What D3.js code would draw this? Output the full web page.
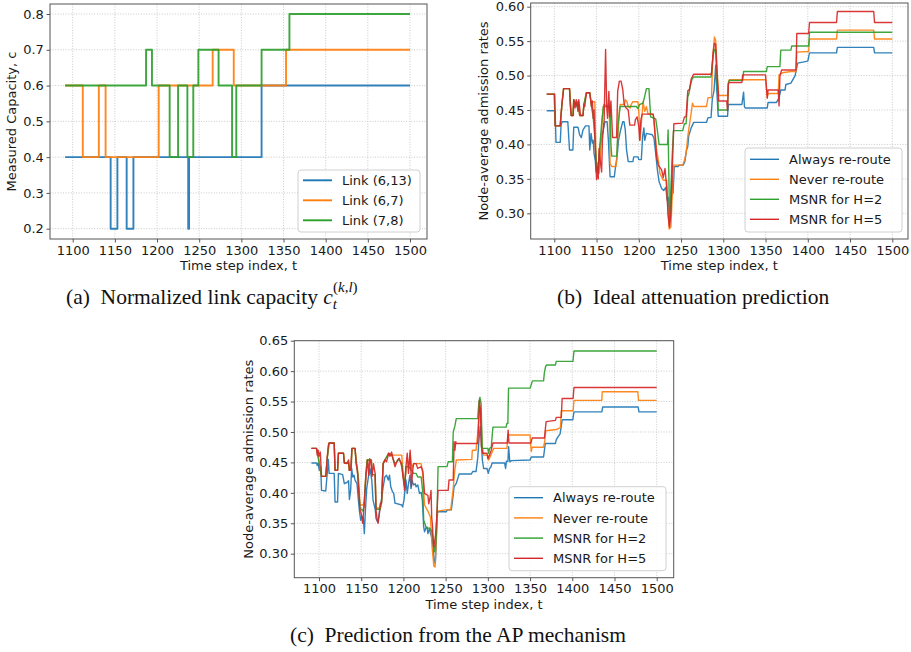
<!DOCTYPE html>
<html>
<head>
<meta charset="utf-8">
<script src="https://cdn.jsdelivr.net/npm/d3@7"></script>
<style>
  html, body { margin: 0; padding: 0; background: #fff; }
  svg text { font-family: "DejaVu Sans", sans-serif; fill: #1a1a1a; }
  .grid { stroke: #c4c4c4; stroke-width: 0.9; stroke-dasharray: 1 1.6; }
  .caption { font-family: "Liberation Serif", "DejaVu Serif", serif; fill: #111; }
</style>
</head>
<body>
<svg id="fig" width="911" height="652"></svg>
<script>
// ---- time axis ----
const timeTicks = [1100, 1150, 1200, 1250, 1300, 1350, 1400, 1450, 1500];

// ---- (a) measured link capacity: [time step, capacity] at each change ----
const capLink613 = [[1091,0.4],[1145,0.2],[1153,0.4],[1164,0.2],[1172,0.4],[1237,0.2],[1238,0.4],[1324,0.6],[1500,0.6]];
const capLink67  = [[1091,0.6],[1112,0.4],[1131,0.6],[1139,0.4],[1202,0.6],[1266,0.7],[1291,0.6],[1353,0.7],[1500,0.7]];
const capLink78  = [[1091,0.6],[1187,0.7],[1194,0.6],[1215,0.4],[1225,0.6],[1236,0.4],[1243,0.6],[1249,0.7],[1273,0.6],[1289,0.4],[1294,0.6],[1324,0.7],[1357,0.8],[1500,0.8]];
const capTicks = [0.2, 0.3, 0.4, 0.5, 0.6, 0.7, 0.8];
const linkNames = ["Link (6,13)", "Link (6,7)", "Link (7,8)"];

// ---- (b) ideal attenuation prediction: node-average admission rates ----
const idealAlways = [[1091,0.449],[1101,0.449],[1102,0.403],[1107,0.403],[1108,0.427],[1109,0.433],[1116,0.433],[1118,0.392],[1122,0.392],[1123,0.425],[1128,0.425],[1130,0.414],[1132,0.41],[1134,0.421],[1137,0.427],[1141,0.427],[1142,0.392],[1143.5,0.416],[1145,0.402],[1146,0.406],[1147,0.387],[1148.5,0.377],[1149.5,0.36],[1151,0.373],[1152,0.363],[1154,0.397],[1156,0.41],[1158,0.421],[1160,0.433],[1162.5,0.433],[1164,0.406],[1166,0.353],[1171,0.353],[1172.5,0.368],[1174.5,0.385],[1176,0.406],[1178.5,0.421],[1181,0.433],[1182.5,0.433],[1184,0.421],[1185.5,0.392],[1187.5,0.375],[1193,0.375],[1194,0.382],[1199,0.382],[1200,0.378],[1203,0.378],[1204.5,0.411],[1206,0.424],[1207,0.406],[1209,0.416],[1216,0.414],[1218,0.409],[1220,0.387],[1222,0.363],[1224,0.346],[1227,0.336],[1229.5,0.333],[1232,0.338],[1233.5,0.319],[1235,0.323],[1236.3,0.282],[1238,0.323],[1239,0.355],[1240.5,0.329],[1242,0.368],[1246.5,0.368],[1248,0.37],[1252.5,0.37],[1254.5,0.375],[1256.5,0.392],[1258,0.397],[1259,0.412],[1262,0.424],[1265,0.432],[1280,0.432],[1282,0.439],[1285.5,0.439],[1287,0.466],[1289,0.478],[1291,0.515],[1292,0.485],[1294,0.441],[1305,0.441],[1306,0.458],[1322,0.458],[1324,0.476],[1325,0.455],[1326,0.453],[1352,0.453],[1353,0.461],[1363,0.461],[1366,0.468],[1368,0.479],[1373,0.479],[1374,0.487],[1380,0.489],[1385,0.5],[1388,0.518],[1400,0.521],[1402,0.533],[1434,0.533],[1435,0.541],[1478,0.541],[1479,0.533],[1500,0.533]];
const idealNever = [[1091,0.473],[1100,0.473],[1101,0.427],[1107,0.427],[1109,0.458],[1111,0.481],[1118,0.481],[1119,0.462],[1120,0.442],[1122,0.442],[1123,0.465],[1126,0.458],[1128,0.462],[1130,0.442],[1134,0.442],[1135,0.458],[1138,0.475],[1142,0.475],[1144,0.458],[1145,0.462],[1148,0.462],[1149,0.4],[1150,0.372],[1152,0.372],[1153,0.358],[1155,0.397],[1157,0.44],[1158.5,0.458],[1165,0.455],[1166,0.372],[1168,0.368],[1173,0.368],[1174,0.377],[1175,0.407],[1177,0.45],[1178,0.458],[1183,0.458],[1184,0.465],[1186,0.462],[1187.5,0.455],[1190,0.453],[1191,0.458],[1193,0.462],[1199,0.462],[1200,0.448],[1201.5,0.406],[1203,0.43],[1205,0.462],[1207,0.448],[1209,0.455],[1211,0.444],[1217,0.444],[1219,0.42],[1221,0.392],[1223,0.378],[1225,0.358],[1229,0.348],[1233,0.348],[1234.5,0.304],[1236,0.277],[1238,0.28],[1240,0.338],[1241.5,0.37],[1252,0.37],[1254,0.377],[1256,0.387],[1258,0.412],[1262,0.446],[1263.5,0.46],[1265,0.455],[1280,0.455],[1282,0.468],[1286,0.468],[1287.5,0.525],[1289.5,0.556],[1291,0.551],[1293,0.5],[1294.6,0.471],[1305,0.471],[1306,0.49],[1307,0.494],[1350,0.494],[1352,0.469],[1353,0.474],[1365,0.474],[1366,0.501],[1370,0.504],[1380,0.506],[1386,0.506],[1387,0.534],[1401,0.535],[1402,0.553],[1434,0.553],[1435,0.566],[1478,0.566],[1479,0.553],[1500,0.553]];
const idealH2 = [[1091,0.473],[1100,0.473],[1101,0.427],[1107,0.427],[1109,0.458],[1111,0.481],[1118,0.481],[1119,0.462],[1120,0.442],[1122,0.442],[1123,0.465],[1126,0.455],[1128,0.462],[1130,0.442],[1134,0.442],[1135,0.458],[1138,0.475],[1142,0.475],[1144,0.455],[1146,0.44],[1148,0.41],[1150,0.365],[1152,0.36],[1154,0.4],[1156,0.43],[1158,0.455],[1166,0.455],[1167,0.4],[1168,0.383],[1174,0.383],[1175.5,0.43],[1178,0.455],[1197,0.455],[1199,0.452],[1201,0.458],[1205,0.46],[1207,0.47],[1209,0.481],[1212,0.481],[1214,0.44],[1220,0.437],[1222,0.42],[1224,0.4],[1234,0.4],[1234.7,0.421],[1236,0.32],[1237,0.29],[1239,0.37],[1241,0.42],[1252,0.42],[1254,0.43],[1256,0.43],[1258,0.47],[1259,0.472],[1261,0.485],[1263,0.495],[1265,0.498],[1285.5,0.498],[1288,0.529],[1289.5,0.538],[1291,0.537],[1293,0.485],[1294,0.45],[1305,0.45],[1306,0.488],[1307,0.493],[1323,0.493],[1324,0.506],[1351,0.506],[1352,0.513],[1367,0.513],[1368,0.537],[1380,0.537],[1381,0.543],[1401,0.543],[1402,0.563],[1500,0.563]];
const idealH5 = [[1091,0.473],[1100.5,0.473],[1101,0.427],[1107,0.427],[1108,0.444],[1109,0.458],[1111,0.481],[1118,0.481],[1119,0.455],[1120,0.442],[1122.5,0.442],[1123,0.465],[1124.5,0.453],[1126,0.465],[1128,0.448],[1129,0.465],[1131,0.442],[1134,0.442],[1135,0.458],[1136,0.455],[1138,0.475],[1142,0.475],[1144,0.455],[1145,0.463],[1146,0.438],[1147,0.45],[1148,0.41],[1149,0.377],[1150,0.349],[1151,0.367],[1152,0.35],[1153,0.394],[1154.5,0.375],[1156,0.36],[1157,0.407],[1159,0.436],[1160.7,0.538],[1162,0.455],[1163,0.438],[1164.6,0.477],[1165.5,0.44],[1167,0.463],[1169,0.41],[1173.7,0.41],[1175,0.477],[1177,0.492],[1179,0.492],[1181,0.48],[1182.7,0.458],[1185,0.453],[1187.5,0.45],[1189.4,0.428],[1195,0.428],[1196,0.436],[1198,0.44],[1200,0.426],[1201,0.406],[1202.5,0.436],[1204,0.444],[1217,0.444],[1218,0.436],[1221,0.382],[1223,0.37],[1227,0.363],[1229,0.352],[1231,0.365],[1233,0.338],[1234.5,0.3],[1236.3,0.28],[1238,0.3],[1240,0.377],[1241.5,0.43],[1252,0.431],[1254,0.44],[1256,0.44],[1258,0.478],[1260,0.48],[1262,0.495],[1265,0.502],[1286,0.502],[1288,0.534],[1289.5,0.547],[1291,0.545],[1292.5,0.505],[1294.6,0.463],[1304,0.463],[1305,0.449],[1306,0.488],[1307,0.49],[1322,0.49],[1323,0.501],[1350,0.501],[1352,0.467],[1353,0.479],[1365,0.479],[1366,0.456],[1367,0.499],[1369,0.508],[1386,0.508],[1387,0.561],[1401,0.561],[1402,0.577],[1434,0.577],[1435,0.593],[1478,0.593],[1479,0.577],[1500,0.577]];
const idealTicks = [0.30, 0.35, 0.40, 0.45, 0.50, 0.55, 0.60];

// ---- (c) prediction from the AP mechanism ----
const apAlways = [[1091,0.449],[1097,0.449],[1098,0.445],[1099,0.449],[1100.4,0.437],[1102,0.443],[1103,0.404],[1108,0.403],[1110,0.437],[1111,0.455],[1112,0.432],[1118,0.432],[1119,0.385],[1122,0.385],[1123,0.432],[1128,0.43],[1130,0.415],[1133,0.417],[1135,0.42],[1136,0.389],[1137.5,0.405],[1138.7,0.44],[1140,0.426],[1141.5,0.429],[1142.7,0.421],[1145,0.415],[1146,0.399],[1147,0.383],[1148,0.369],[1149.4,0.355],[1151,0.361],[1152.5,0.359],[1153.7,0.333],[1155,0.372],[1156.5,0.407],[1158.5,0.426],[1160.4,0.44],[1162.5,0.421],[1164,0.388],[1166.7,0.372],[1167.5,0.358],[1169.5,0.352],[1171,0.361],[1172.3,0.377],[1174,0.388],[1176,0.41],[1178,0.426],[1180,0.429],[1182,0.421],[1183.5,0.429],[1185,0.41],[1187,0.402],[1188.5,0.399],[1190,0.383],[1198,0.38],[1199,0.377],[1200.7,0.388],[1203,0.421],[1204.5,0.399],[1206,0.415],[1207.8,0.429],[1209,0.407],[1210,0.421],[1212,0.413],[1214,0.415],[1215,0.41],[1217,0.413],[1219,0.399],[1221,0.401],[1222.4,0.388],[1224,0.344],[1225,0.336],[1226.5,0.342],[1228,0.344],[1229,0.333],[1231,0.342],[1232,0.333],[1233.5,0.327],[1235,0.311],[1236.5,0.289],[1237.8,0.284],[1239,0.322],[1240,0.366],[1241,0.369],[1250.8,0.369],[1252,0.372],[1256.7,0.372],[1258,0.385],[1260,0.41],[1262.7,0.416],[1266,0.431],[1280.5,0.431],[1282,0.435],[1286,0.435],[1288,0.457],[1289.5,0.487],[1291,0.509],[1292,0.49],[1293.5,0.454],[1295,0.44],[1299,0.44],[1300.5,0.432],[1302,0.44],[1303.5,0.442],[1305,0.449],[1319.9,0.449],[1321,0.44],[1322,0.452],[1323.8,0.452],[1324.6,0.476],[1326,0.451],[1328,0.453],[1350,0.454],[1351.4,0.459],[1366,0.459],[1368,0.481],[1380,0.481],[1381,0.487],[1383,0.492],[1385.6,0.497],[1388,0.52],[1400.6,0.52],[1402,0.533],[1435,0.533],[1436,0.541],[1478,0.541],[1479,0.533],[1500,0.533]];
const apNever = [[1091,0.473],[1097,0.473],[1098,0.47],[1103,0.427],[1108,0.427],[1110,0.46],[1112,0.482],[1118,0.482],[1119,0.437],[1122,0.437],[1123,0.465],[1129,0.465],[1130,0.449],[1135,0.449],[1136,0.437],[1138,0.437],[1139,0.473],[1142.7,0.473],[1144,0.455],[1145.5,0.44],[1147,0.42],[1148.6,0.38],[1152,0.38],[1153.5,0.385],[1155.5,0.43],[1157,0.454],[1162,0.454],[1163,0.43],[1166.5,0.43],[1167.5,0.375],[1172.5,0.375],[1174,0.383],[1176,0.448],[1178,0.454],[1182.5,0.465],[1185,0.462],[1198,0.462],[1200,0.425],[1201.5,0.41],[1203,0.443],[1206,0.443],[1208,0.465],[1210,0.44],[1212,0.448],[1221,0.448],[1223,0.43],[1225,0.38],[1229,0.37],[1232,0.36],[1234,0.31],[1236,0.28],[1237.5,0.278],[1239,0.33],[1240.5,0.37],[1250,0.372],[1256,0.372],[1258.8,0.405],[1260.8,0.437],[1262.7,0.454],[1281,0.455],[1281.6,0.47],[1286,0.47],[1288,0.498],[1290,0.542],[1291.5,0.531],[1293.5,0.476],[1295,0.462],[1300,0.462],[1301,0.454],[1303,0.46],[1306,0.47],[1307,0.473],[1322.6,0.473],[1323.8,0.495],[1350,0.495],[1351.4,0.468],[1352.5,0.475],[1366,0.475],[1367.5,0.486],[1368.5,0.502],[1381,0.504],[1386,0.507],[1387,0.535],[1401,0.535],[1402,0.552],[1435,0.552],[1435.5,0.566],[1477.6,0.566],[1478.5,0.552],[1500,0.552]];
const apH2 = [[1091,0.473],[1097,0.473],[1103,0.427],[1108,0.427],[1110,0.46],[1112,0.482],[1118,0.482],[1119,0.437],[1122,0.437],[1123,0.465],[1129,0.465],[1130,0.449],[1135,0.449],[1136,0.437],[1138,0.437],[1139,0.473],[1142.7,0.473],[1144,0.45],[1146,0.43],[1148.6,0.375],[1152,0.37],[1153.5,0.38],[1155.5,0.43],[1157,0.454],[1162,0.454],[1163,0.43],[1166.5,0.43],[1167.5,0.373],[1172.5,0.373],[1174,0.383],[1176,0.448],[1178,0.454],[1182.5,0.465],[1186,0.462],[1190,0.448],[1195,0.455],[1198,0.448],[1200,0.425],[1201.5,0.41],[1203,0.443],[1206,0.443],[1208,0.44],[1212,0.432],[1215,0.432],[1217,0.426],[1221,0.426],[1223,0.4],[1224,0.355],[1226,0.347],[1227,0.342],[1231,0.342],[1234,0.336],[1235.5,0.32],[1237,0.303],[1238.5,0.32],[1240,0.377],[1241,0.443],[1251.6,0.443],[1253,0.451],[1258,0.451],[1259,0.5],[1261,0.51],[1262.6,0.522],[1288,0.522],[1289.4,0.55],[1290.6,0.557],[1292,0.547],[1293.3,0.473],[1300,0.473],[1301,0.465],[1302,0.473],[1304,0.475],[1306,0.508],[1321.7,0.508],[1322.5,0.514],[1323.7,0.514],[1324.5,0.572],[1350,0.572],[1351,0.576],[1352.8,0.584],[1366,0.584],[1367,0.598],[1368.5,0.608],[1369.5,0.61],[1380,0.61],[1381,0.616],[1400.8,0.616],[1402,0.633],[1500,0.633]];
const apH5 = [[1091,0.473],[1097,0.473],[1098,0.462],[1099,0.47],[1100,0.46],[1101.5,0.467],[1103,0.427],[1108,0.427],[1109.5,0.454],[1111,0.478],[1112,0.482],[1118,0.482],[1119,0.437],[1122,0.437],[1123,0.465],[1129,0.465],[1130,0.449],[1133,0.448],[1135,0.454],[1136,0.437],[1137.5,0.437],[1139,0.473],[1142.7,0.473],[1144,0.448],[1145.4,0.437],[1147,0.404],[1148.6,0.372],[1150,0.366],[1151.7,0.35],[1153.7,0.383],[1155.7,0.429],[1157.5,0.454],[1159,0.429],[1160,0.456],[1161.5,0.45],[1162.8,0.427],[1164.5,0.448],[1166.5,0.432],[1167.5,0.372],[1169,0.355],[1170,0.35],[1171.5,0.366],[1172.7,0.383],[1174,0.383],[1176,0.448],[1178,0.454],[1180,0.451],[1182.5,0.465],[1184,0.46],[1186,0.467],[1188,0.454],[1190,0.443],[1193,0.454],[1195,0.457],[1198,0.443],[1200,0.421],[1201.5,0.404],[1203,0.443],[1204.5,0.465],[1206,0.432],[1208,0.47],[1209.5,0.41],[1211,0.437],[1212,0.448],[1215,0.448],[1217,0.44],[1221,0.443],[1223,0.436],[1225,0.399],[1229,0.396],[1230,0.382],[1232,0.396],[1232.7,0.404],[1233.5,0.36],[1234.5,0.344],[1235,0.328],[1236,0.311],[1238,0.33],[1239.5,0.36],[1241,0.404],[1253,0.404],[1254,0.421],[1259,0.421],[1260,0.484],[1261,0.47],[1262,0.484],[1262.6,0.481],[1288,0.481],[1289,0.508],[1290,0.552],[1291.2,0.536],[1292.3,0.476],[1294,0.465],[1299,0.465],[1300,0.456],[1302,0.462],[1304,0.47],[1306,0.482],[1323,0.482],[1324,0.503],[1325,0.482],[1351,0.482],[1352.5,0.49],[1367,0.49],[1369,0.517],[1380,0.519],[1381,0.524],[1387,0.524],[1388,0.555],[1401,0.555],[1402,0.573],[1500,0.573]];
const apTicks = [0.30, 0.35, 0.40, 0.45, 0.50, 0.55, 0.60, 0.65];
const policyNames = ["Always re-route", "Never re-route", "MSNR for H=2", "MSNR for H=5"];

const palette = ["#1f77b4", "#ff7f0e", "#2ca02c", "#d62728"];
const svg = d3.select("#fig");
const FS = 13;

function drawPanel(p) {
  const g = svg.append("g");
  const x = d3.scaleLinear().domain([1100, 1500]).range(p.xRange);
  const y = d3.scaleLinear().domain(p.yDomain).range(p.yRange);

  const clipId = "clip-" + p.id;
  svg.append("clipPath").attr("id", clipId)
    .append("rect").attr("x", p.left).attr("y", p.top)
    .attr("width", p.right - p.left).attr("height", p.bottom - p.top);

  // dotted grid
  g.selectAll(".gx").data(timeTicks).join("line").attr("class", "grid")
    .attr("x1", d => x(d)).attr("x2", d => x(d)).attr("y1", p.top).attr("y2", p.bottom);
  g.selectAll(".gy").data(p.yTicks).join("line").attr("class", "grid")
    .attr("x1", p.left).attr("x2", p.right).attr("y1", d => y(d)).attr("y2", d => y(d));

  // series
  const line = d3.line().x(d => x(d[0])).y(d => y(d[1])).curve(p.curve);
  p.series.forEach((s, i) => {
    g.append("path").attr("d", line(s)).attr("clip-path", `url(#${clipId})`)
      .attr("fill", "none").attr("stroke", palette[i])
      .attr("stroke-width", p.lineWidth).attr("stroke-linejoin", "round").attr("opacity", 0.92);
  });

  // axes
  const ax = g.append("g").attr("transform", `translate(0,${p.bottom})`)
    .call(d3.axisBottom(x).tickValues(timeTicks).tickFormat(d3.format("d")).tickSize(3.5).tickPadding(3));
  const ay = g.append("g").attr("transform", `translate(${p.left},0)`)
    .call(d3.axisLeft(y).tickValues(p.yTicks).tickFormat(d3.format(p.fmt)).tickSize(3.5).tickPadding(2.6));
  [ax, ay].forEach(a => {
    a.select(".domain").remove();
    a.selectAll(".tick line").attr("stroke", "#444").attr("stroke-width", 0.9);
    a.selectAll(".tick text").attr("font-size", FS).attr("fill", "#1a1a1a")
      .attr("font-family", "DejaVu Sans");
  });

  // frame
  g.append("rect").attr("x", p.left).attr("y", p.top)
    .attr("width", p.right - p.left).attr("height", p.bottom - p.top)
    .attr("fill", "none").attr("stroke", "#555").attr("stroke-width", 1);

  // axis titles
  g.append("text").attr("x", (p.left + p.right) / 2).attr("y", p.bottom + 31.3)
    .attr("text-anchor", "middle").attr("font-size", FS).text("Time step index, t");
  const cy = (p.top + p.bottom) / 2;
  g.append("text").attr("transform", `translate(${p.yLabelX},${cy}) rotate(-90)`)
    .attr("text-anchor", "middle").attr("font-size", FS).text(p.yLabel);

  // legend
  const L = p.legend;
  g.append("rect").attr("x", L.x).attr("y", L.y).attr("width", L.w).attr("height", L.h)
    .attr("rx", 3).attr("fill", "#fff").attr("fill-opacity", 0.85)
    .attr("stroke", "#d0d0d0").attr("stroke-width", 1);
  p.names.forEach((name, i) => {
    const ry = L.rowY0 + i * L.rowStep;
    g.append("line").attr("x1", L.x + 5).attr("x2", L.x + 34).attr("y1", ry).attr("y2", ry)
      .attr("stroke", palette[i]).attr("stroke-width", p.lineWidth);
    g.append("text").attr("x", L.x + 44).attr("y", ry).attr("dy", "0.36em")
      .attr("font-size", FS).text(name);
  });
}

drawPanel({
  id: "a", left: 50, right: 427, top: 4, bottom: 239,
  xRange: [72.7, 410], yDomain: [0.2, 0.8], yRange: [228.7, 14],
  yTicks: capTicks, fmt: ".1f", yLabel: "Measured Capacity, c", yLabelX: 16,
  series: [capLink613, capLink67, capLink78], names: linkNames,
  curve: d3.curveStepAfter, lineWidth: 1.9,
  legend: { x: 298, y: 170, w: 122, h: 62, rowY0: 180.3, rowStep: 20 }
});

drawPanel({
  id: "b", left: 530.7, right: 908, top: 3, bottom: 239,
  xRange: [554.3, 892.3], yDomain: [0.30, 0.60], yRange: [213.3, 6.7],
  yTicks: idealTicks, fmt: ".2f", yLabel: "Node-average admission rates", yLabelX: 487.5,
  series: [idealAlways, idealNever, idealH2, idealH5], names: policyNames,
  curve: d3.curveLinear, lineWidth: 1.4,
  legend: { x: 745, y: 148, w: 157, h: 84, rowY0: 159.3, rowStep: 20 }
});

drawPanel({
  id: "c", left: 294.3, right: 673.7, top: 340.7, bottom: 577.7,
  xRange: [319, 656.7], yDomain: [0.30, 0.65], yRange: [553.7, 340.7],
  yTicks: apTicks, fmt: ".2f", yLabel: "Node-average admission rates", yLabelX: 252.8,
  series: [apAlways, apNever, apH2, apH5], names: policyNames,
  curve: d3.curveLinear, lineWidth: 1.4,
  legend: { x: 509, y: 486.7, w: 157, h: 84, rowY0: 497.7, rowStep: 20.2 }
});

// sub-figure captions
const capA = svg.append("text").attr("class", "caption").attr("x", 66).attr("y", 303.5).attr("font-size", 21.5);
capA.append("tspan").text("(a)\u2002Normalized link capacity ");
capA.append("tspan").attr("font-style", "italic").text("c");
capA.append("tspan").attr("font-style", "italic").attr("font-size", 15).attr("dy", 5).text("t");
capA.append("tspan").attr("font-size", 15).attr("dx", -4).attr("dy", -17).text("(");
capA.append("tspan").attr("font-size", 15).attr("font-style", "italic").text("k,l");
capA.append("tspan").attr("font-size", 15).text(")");

svg.append("text").attr("class", "caption").attr("x", 557).attr("y", 303.5).attr("font-size", 21.5)
  .text("(b)\u2002Ideal attenuation prediction");
svg.append("text").attr("class", "caption").attr("x", 290).attr("y", 641.5).attr("font-size", 21.5)
  .text("(c)\u2002Prediction from the AP mechanism");
</script>
</body>
</html>
